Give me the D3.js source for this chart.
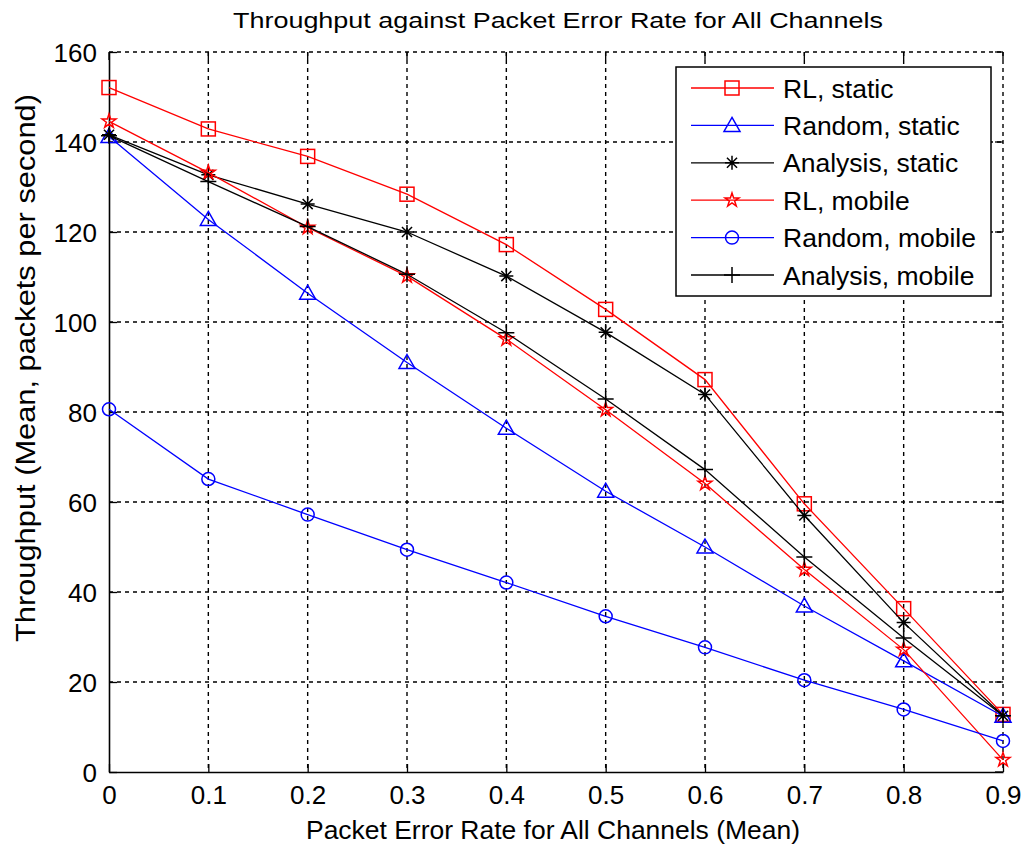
<!DOCTYPE html>
<html>
<head>
<meta charset="utf-8">
<script src="https://cdn.jsdelivr.net/npm/d3@7"></script>
<style>
  body { margin: 0; background: #fff; }
  text { font-family: "Liberation Sans", Arial, sans-serif; fill: #000; }
</style>
</head>
<body>
<div id="wrapper"></div>
<script>
// data
const perValues = [0, 0.1, 0.2, 0.3, 0.4, 0.5, 0.6, 0.7, 0.8, 0.9];
const xTicks = [0, 0.1, 0.2, 0.3, 0.4, 0.5, 0.6, 0.7, 0.8, 0.9];
const yTicks = [0, 20, 40, 60, 80, 100, 120, 140, 160];

const rlStatic = [152.1, 142.9, 136.8, 128.4, 117.2, 102.8, 87.2, 59.6, 36.3, 12.8];
const randomStatic = [141.2, 122.8, 106.4, 91.0, 76.4, 62.4, 50.0, 36.9, 24.7, 12.4];
const analysisStatic = [141.6, 132.7, 126.2, 120.0, 110.2, 97.7, 83.9, 57.0, 33.2, 12.5];
const rlMobile = [144.6, 133.2, 121.0, 110.2, 96.2, 80.5, 64.1, 45.0, 27.2, 2.7];
const randomMobile = [80.6, 65.1, 57.2, 49.4, 42.1, 34.6, 27.7, 20.4, 13.9, 6.9];
const analysisMobile = [141.4, 131.2, 121.2, 110.6, 97.6, 82.9, 67.2, 47.8, 29.8, 12.5];

const seriesNames = ["RL, static", "Random, static", "Analysis, static", "RL, mobile", "Random, mobile", "Analysis, mobile"];
const seriesValues = [rlStatic, randomStatic, analysisStatic, rlMobile, randomMobile, analysisMobile];
const seriesColors = ["#ff0000", "#0000ff", "#000000", "#ff0000", "#0000ff", "#000000"];
const seriesMarkers = ["square", "triangle", "asterisk", "star", "circle", "plus"];

/////////////////////////////////////////////////
// dimensions ///////////////////////////////////
/////////////////////////////////////////////////

const dimensions = {
  width: 1022,
  height: 847,
  margin: { top: 52, right: 19, bottom: 75, left: 109 }
};
dimensions.boundedWidth = dimensions.width - dimensions.margin.left - dimensions.margin.right;
dimensions.boundedHeight = dimensions.height - dimensions.margin.top - dimensions.margin.bottom;

const svg = d3.select("#wrapper").append("svg")
  .attr("width", dimensions.width)
  .attr("height", dimensions.height);

const bounds = svg.append("g")
  .attr("transform", `translate(${dimensions.margin.left},${dimensions.margin.top})`);

/////////////////////////////////////////////////
// scales ///////////////////////////////////////
/////////////////////////////////////////////////

const xScale = d3.scaleLinear().domain([0, 0.9]).range([0, dimensions.boundedWidth]);
const yScale = d3.scaleLinear().domain([0, 160]).range([dimensions.boundedHeight, 0]);

/////////////////////////////////////////////////
// grid /////////////////////////////////////////
/////////////////////////////////////////////////

const grid = bounds.append("g").attr("stroke", "#000").attr("stroke-width", 1.4)
  .attr("stroke-dasharray", "4,4");
grid.selectAll(".vgrid").data(xTicks.slice(1, -1)).join("line")
  .attr("x1", d => xScale(d)).attr("x2", d => xScale(d))
  .attr("y1", 0).attr("y2", dimensions.boundedHeight);
grid.selectAll(".hgrid").data(yTicks.slice(1, -1)).join("line")
  .attr("x1", 0).attr("x2", dimensions.boundedWidth)
  .attr("y1", d => yScale(d)).attr("y2", d => yScale(d));
// box top and right are dashed like the grid
grid.append("line").attr("x1", 0).attr("x2", dimensions.boundedWidth).attr("y1", 0).attr("y2", 0);
grid.append("line").attr("x1", dimensions.boundedWidth).attr("x2", dimensions.boundedWidth)
  .attr("y1", 0).attr("y2", dimensions.boundedHeight);

/////////////////////////////////////////////////
// axes /////////////////////////////////////////
/////////////////////////////////////////////////

const xAxisGenerator = d3.axisBottom(xScale).tickValues(xTicks)
  .tickSizeInner(-8).tickSizeOuter(0).tickPadding(14).tickFormat(d => d === 0 ? "0" : d3.format(".1f")(d));
const xAxis = bounds.append("g")
  .attr("transform", `translate(0,${dimensions.boundedHeight})`)
  .call(xAxisGenerator);

const yAxisGenerator = d3.axisLeft(yScale).tickValues(yTicks)
  .tickSizeInner(-8).tickSizeOuter(0).tickPadding(12);
const yAxis = bounds.append("g").call(yAxisGenerator);

[xAxis, yAxis].forEach(a => {
  a.select(".domain").attr("stroke", "#000").attr("stroke-width", 1.6);
  a.selectAll(".tick line").attr("stroke", "#000").attr("stroke-width", 1.3);
  a.selectAll(".tick text").style("font-size", "26px").attr("fill", "#000")
    .style("font-family", "'Liberation Sans', Arial, sans-serif");
});
yAxis.selectAll(".tick text").attr("dy", "0.36em");

// ticks on top and right
bounds.append("g").selectAll("line").data(xTicks).join("line")
  .attr("x1", d => xScale(d)).attr("x2", d => xScale(d))
  .attr("y1", 0).attr("y2", 8).attr("stroke", "#000").attr("stroke-width", 1.3);
bounds.append("g").selectAll("line").data(yTicks).join("line")
  .attr("x1", dimensions.boundedWidth - 8).attr("x2", dimensions.boundedWidth)
  .attr("y1", d => yScale(d)).attr("y2", d => yScale(d)).attr("stroke", "#000").attr("stroke-width", 1.3);

/////////////////////////////////////////////////
// labels ///////////////////////////////////////
/////////////////////////////////////////////////

svg.append("text")
  .text("Throughput against Packet Error Rate for All Channels")
  .attr("x", 558).attr("y", 28)
  .attr("text-anchor", "middle")
  .attr("textLength", 650).attr("lengthAdjust", "spacingAndGlyphs")
  .style("font-size", "22px");

svg.append("text")
  .text("Packet Error Rate for All Channels (Mean)")
  .attr("x", 553).attr("y", 839)
  .attr("text-anchor", "middle")
  .attr("textLength", 494).attr("lengthAdjust", "spacingAndGlyphs")
  .style("font-size", "26px");

svg.append("text")
  .text("Throughput (Mean, packets per second)")
  .attr("transform", "translate(35,368) rotate(-90)")
  .attr("text-anchor", "middle")
  .attr("textLength", 548).attr("lengthAdjust", "spacingAndGlyphs")
  .style("font-size", "27px");

/////////////////////////////////////////////////
// markers //////////////////////////////////////
/////////////////////////////////////////////////

const drawMarker = (g, type, color) => {
  const s = 7;
  if (type === "square") {
    g.append("rect").attr("x", -s).attr("y", -s).attr("width", 2 * s).attr("height", 2 * s)
      .attr("fill", "none").attr("stroke", color).attr("stroke-width", 1.5);
  } else if (type === "triangle") {
    g.append("path").attr("d", `M0,${-s - 1}L${s + 1},${s - 1}L${-s - 1},${s - 1}Z`)
      .attr("fill", "none").attr("stroke", color).attr("stroke-width", 1.5);
  } else if (type === "circle") {
    g.append("circle").attr("r", s - 0.5)
      .attr("fill", "none").attr("stroke", color).attr("stroke-width", 1.5);
  } else if (type === "star") {
    g.append("path").attr("d", d3.symbol(d3.symbolStar, 60)())
      .attr("fill", "none").attr("stroke", color).attr("stroke-width", 1.5);
  } else if (type === "asterisk") {
    const r = 7;
    const d = r * 0.72;
    g.append("path").attr("d", `M${-r},0L${r},0M0,${-r}L0,${r}M${-d},${-d}L${d},${d}M${-d},${d}L${d},${-d}`)
      .attr("stroke", color).attr("stroke-width", 1.5);
  } else if (type === "plus") {
    const r = 8;
    g.append("path").attr("d", `M${-r},0L${r},0M0,${-r}L0,${r}`)
      .attr("stroke", color).attr("stroke-width", 1.5);
  }
};

/////////////////////////////////////////////////
// plotting /////////////////////////////////////
/////////////////////////////////////////////////

const lineGenerator = d3.line()
  .x((d, i) => xScale(perValues[i]))
  .y(d => yScale(d));

seriesValues.forEach((vals, k) => {
  const g = bounds.append("g");
  g.append("path").datum(vals)
    .attr("d", lineGenerator)
    .attr("fill", "none")
    .attr("stroke", seriesColors[k])
    .attr("stroke-width", 1.3);
  vals.forEach((v, i) => {
    const m = g.append("g").attr("transform", `translate(${xScale(perValues[i])},${yScale(v)})`);
    drawMarker(m, seriesMarkers[k], seriesColors[k]);
  });
});

/////////////////////////////////////////////////
// legend ///////////////////////////////////////
/////////////////////////////////////////////////

const legend = svg.append("g").attr("transform", "translate(676,67)");
legend.append("rect")
  .attr("width", 315).attr("height", 229)
  .attr("fill", "#fff").attr("stroke", "#000").attr("stroke-width", 1.5);

seriesNames.forEach((name, k) => {
  const y = 21 + k * 37.4;
  const row = legend.append("g").attr("transform", `translate(0,${y})`);
  row.append("line").attr("x1", 15).attr("x2", 98).attr("y1", 0).attr("y2", 0)
    .attr("stroke", seriesColors[k]).attr("stroke-width", 1.3);
  const m = row.append("g").attr("transform", "translate(56,0)");
  drawMarker(m, seriesMarkers[k], seriesColors[k]);
  row.append("text").text(name)
    .attr("x", 107).attr("y", 0).attr("dy", "0.36em")
    .style("font-size", "26.5px");
});
</script>
</body>
</html>
